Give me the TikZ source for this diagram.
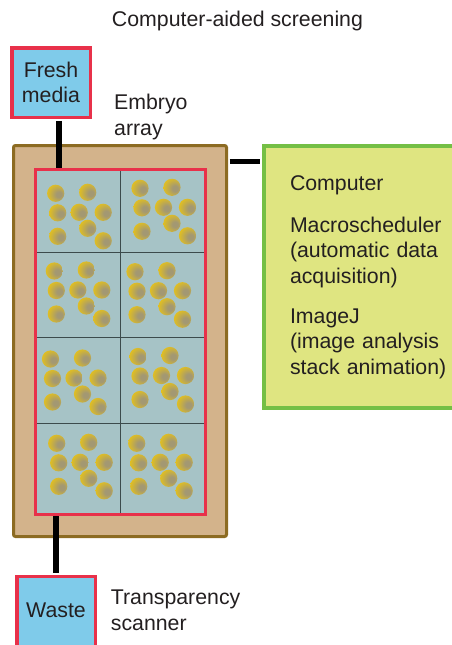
\documentclass[tikz,border=0pt]{standalone}
\usepackage{fontspec}
\setmainfont{Liberation Sans}
\usetikzlibrary{calc}

\definecolor{media}{HTML}{7FCBEA}
\definecolor{rim}{HTML}{E8314A}
\definecolor{trayfill}{HTML}{D3B38B}
\definecolor{trayedge}{HTML}{8C6B22}
\definecolor{well}{HTML}{A6C3C6}
\definecolor{gridline}{HTML}{3C4B4C}
\definecolor{pcfill}{HTML}{DFE581}
\definecolor{pcedge}{HTML}{74BF45}
\definecolor{yolk}{HTML}{E6C21A}
\definecolor{core}{HTML}{A39872}
\definecolor{ink}{HTML}{231F20}

% embryo body: greyish core, off-centre to the right, fading into a yellow rim
\pgfdeclareradialshading{embryo}{\pgfpoint{11bp}{-4bp}}{%
  color(0bp)=(core); color(8bp)=(core); color(32bp)=(yolk);
  color(50bp)=(yolk)}

\tikzset{
  lbl/.style={font=\fontsize{21.3}{25.5}\selectfont, text=ink, inner sep=0pt},
  reservoir/.style={draw=rim, fill=media, line width=3.5pt, lbl, align=center},
  conn/.style={line width=6.5pt, black},
  wellgrid/.style={gridline, line width=1pt},
}

% one embryo
\newcommand\embryo[1]{%
  \shade[shading=embryo] (#1) circle (8.6pt);
}
% eight embryos of one well, given the position of the first one
\newcommand\cluster[2]{%
  \foreach \dx/\dy in {0/0,32/-1,2/19.5,23.5/19,47.5/19,32/35,2/43,47.5/47.5}
    {\embryo{#1+\dx,#2+\dy}}%
}

\begin{document}
\begin{tikzpicture}[x=1pt, y=-1pt]
  \useasboundingbox (0,0) rectangle (452,645);
  \clip (0,0) rectangle (452,645);

  \node[lbl, anchor=base] (title) at (237.5,27) {Computer-aided screening};

  % tray holding the embryo array
  \node[draw=trayedge, fill=trayfill, line width=3pt, rounded corners=2pt,
        minimum width=213pt, minimum height=391pt, inner sep=0pt] (tray) at (120,341) {};
  \node[fill=well, minimum width=170pt, minimum height=345pt, inner sep=0pt] (array) at (120.5,342) {};

  % wells
  \draw[wellgrid] (array.north) -- (array.south);
  \foreach \yy in {252,337.7,423.5}
    \draw[wellgrid] (array.west |- 0,\yy) -- (array.east |- 0,\yy);

  % embryos
  \cluster{55.7}{193.3} \cluster{140}{188.3}
  \cluster{54.3}{271}   \cluster{135}{271.7}
  \cluster{50.5}{359}   \cluster{138}{356.5}
  \cluster{56.7}{443.3} \cluster{136.7}{443.3}

  % reservoirs
  \node[reservoir, minimum width=78.5pt, minimum height=69.5pt] (fresh) at (51,82.5) {Fresh\\media};
  \node[reservoir, minimum width=78.5pt, minimum height=88pt,
        text height=15.5pt, text depth=22pt] (waste) at (56,620.5) {Waste};

  % computer
  \node[draw=pcedge, fill=pcfill, line width=4pt, lbl, text width=170pt, align=left,
        inner xsep=26pt, minimum height=262pt] (computer) at (375,277)
    {Computer\\[16.5pt]Macroscheduler\\(automatic data\\acquisition)\\[14.5pt]ImageJ\\(image analysis\\stack animation)};

  % labels (anchored at the baseline of their last line)
  \node[lbl, anchor=base west, align=left] (arraylbl) at (114,135) {Embryo\\array};
  \node[lbl, anchor=base west, align=left] (scanlbl) at (110.7,630) {Transparency\\scanner};

  % tubing and cable
  \draw[conn] ([xshift=8pt,yshift=-1.75pt]fresh.south) -- ([xshift=8pt]fresh.south |- array.north);
  \draw[conn] (waste.north |- array.south) -- ([yshift=1.75pt]waste.north);
  \draw[line width=5pt, black] ([xshift=1.5pt,yshift=-17pt]tray.north east)
    -- ([xshift=-2pt,yshift=-17pt]tray.north east -| computer.west);

  % red frame of the array
  \draw[rim, line width=3pt] (array.south west) rectangle (array.north east);
\end{tikzpicture}
\end{document}
